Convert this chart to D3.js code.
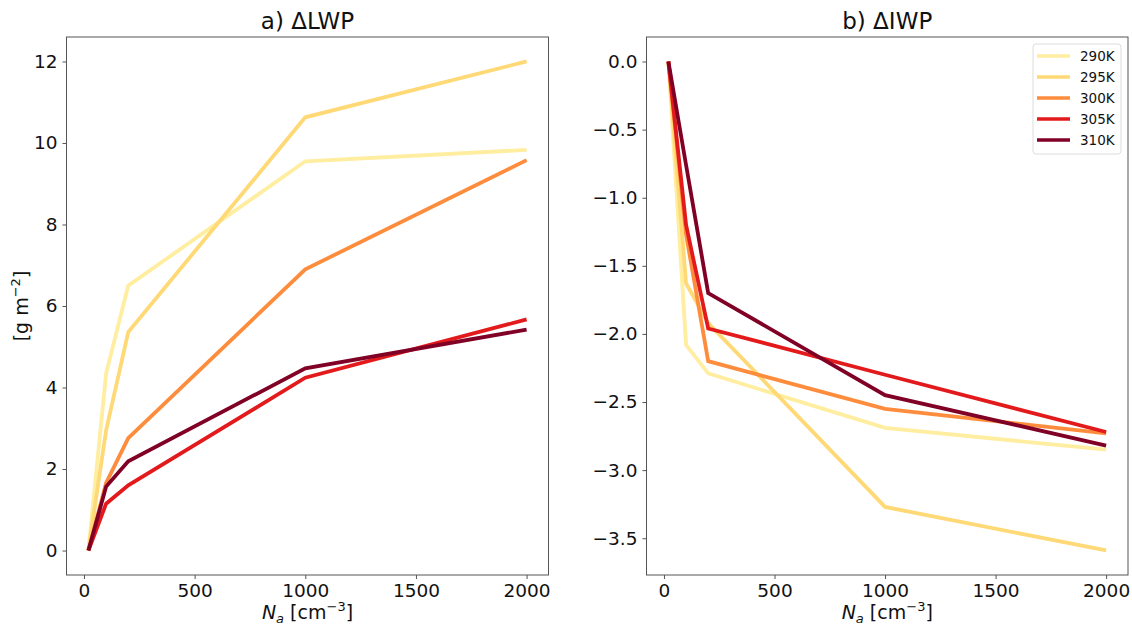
<!DOCTYPE html>
<html>
<head>
<meta charset="utf-8">
<script src="https://cdn.jsdelivr.net/npm/d3@7"></script>
<style>
  body { margin: 0; background: #fff; }
  text { font-family: "DejaVu Sans", sans-serif; fill: #111; }
</style>
</head>
<body>
<svg width="1132" height="626"></svg>
<script>
var svg = d3.select("svg");

// aerosol number concentration [cm-3]
var na = [20, 100, 200, 1000, 2000];
var temps = ["290K", "295K", "300K", "305K", "310K"];
var colors = ["#ffeda0", "#fed976", "#fd8d3c", "#e31a1c", "#800026"];

// a) delta LWP [g m-2]
var lwp290 = [0, 4.34, 6.5, 9.55, 9.83];
var lwp295 = [0, 2.95, 5.36, 10.63, 12.0];
var lwp300 = [0, 1.66, 2.76, 6.9, 9.58];
var lwp305 = [0, 1.15, 1.6, 4.24, 5.67];
var lwp310 = [0, 1.57, 2.19, 4.47, 5.42];

// b) delta IWP [g m-2]
var iwp290 = [0, -2.08, -2.29, -2.69, -2.85];
var iwp295 = [0, -1.63, -1.92, -3.27, -3.59];
var iwp300 = [0, -1.27, -2.2, -2.55, -2.73];
var iwp305 = [0, -1.2, -1.96, -2.3, -2.72];
var iwp310 = [0, -0.76, -1.7, -2.45, -2.82];

var xTicks = [0, 500, 1000, 1500, 2000];
var lwpTicks = [0, 2, 4, 6, 8, 10, 12];
var iwpTicks = [0, -0.5, -1, -1.5, -2, -2.5, -3, -3.5];

var plotTop = 37, plotBottom = 575;

function panel(opts) {
    var x = d3.scaleLinear().domain([-79, 2099]).range([opts.left, opts.right]);
    var y = d3.scaleLinear().domain(opts.ydomain).range([plotBottom, plotTop]);
    var g = svg.append("g");

    var line = d3.line()
        .x(function (d, i) { return x(na[i]); })
        .y(function (d) { return y(d); });

    opts.series.forEach(function (s, i) {
        g.append("path")
            .attr("d", line(s))
            .attr("fill", "none")
            .attr("stroke", colors[i])
            .attr("stroke-width", 3.8)
            .attr("stroke-linejoin", "miter");
    });

    // frame
    g.append("rect")
        .attr("x", opts.left).attr("y", plotTop)
        .attr("width", opts.right - opts.left).attr("height", plotBottom - plotTop)
        .attr("fill", "none").attr("stroke", "#555").attr("stroke-width", 1);

    var xa = g.append("g")
        .attr("transform", "translate(0," + plotBottom + ")")
        .call(d3.axisBottom(x).tickValues(xTicks).tickSize(4).tickPadding(5).tickFormat(d3.format("d")));
    var ya = g.append("g")
        .attr("transform", "translate(" + opts.left + ",0)")
        .call(d3.axisLeft(y).tickValues(opts.yticks).tickSize(4).tickPadding(5).tickFormat(opts.yfmt));
    [xa, ya].forEach(function (a) {
        a.select(".domain").remove();
        a.selectAll("line").attr("stroke", "#555");
        a.selectAll("text").style("font-size", "18.5px").attr("fill", "#111");
    });

    var mid = (opts.left + opts.right) / 2;
    g.append("text")
        .attr("x", mid).attr("y", 29)
        .attr("text-anchor", "middle")
        .style("font-size", "23px")
        .text(opts.title);

    var xl = g.append("text")
        .attr("x", mid).attr("y", 619)
        .attr("text-anchor", "middle")
        .style("font-size", "19px");
    xl.append("tspan").style("font-style", "italic").text("N");
    xl.append("tspan").style("font-style", "italic").style("font-size", "13px").attr("dy", 4).text("a");
    xl.append("tspan").attr("dy", -4).text(" [cm");
    xl.append("tspan").style("font-size", "13px").attr("dy", -8).text("\u22123");
    xl.append("tspan").attr("dy", 8).text("]");

    return { x: x, y: y, g: g };
}

panel({
    left: 66.5, right: 548.5,
    ydomain: [-0.6, 12.6],
    yticks: lwpTicks, yfmt: d3.format("d"),
    title: "a) \u0394LWP",
    series: [lwp290, lwp295, lwp300, lwp305, lwp310]
});

panel({
    left: 646.5, right: 1128,
    ydomain: [-3.77, 0.18],
    yticks: iwpTicks, yfmt: d3.format(".1f"),
    title: "b) \u0394IWP",
    series: [iwp290, iwp295, iwp300, iwp305, iwp310]
});

// y label left
var yl = svg.append("text")
    .attr("transform", "translate(28,306) rotate(-90)")
    .attr("text-anchor", "middle")
    .style("font-size", "19px");
yl.append("tspan").text("[g m");
yl.append("tspan").style("font-size", "13px").attr("dy", -8).text("\u22122");
yl.append("tspan").attr("dy", 8).text("]");

// legend
var leg = svg.append("g").attr("transform", "translate(1033,44)");
leg.append("rect")
    .attr("width", 88).attr("height", 110).attr("rx", 3)
    .attr("fill", "#fff").attr("stroke", "#ddd");
temps.forEach(function (t, i) {
    var yy = 12 + i * 21;
    leg.append("line")
        .attr("x1", 4).attr("x2", 37).attr("y1", yy).attr("y2", yy)
        .attr("stroke", colors[i]).attr("stroke-width", 3.5);
    leg.append("text")
        .attr("x", 47).attr("y", yy + 5)
        .style("font-size", "13.5px")
        .text(t);
});
</script>
</body>
</html>
